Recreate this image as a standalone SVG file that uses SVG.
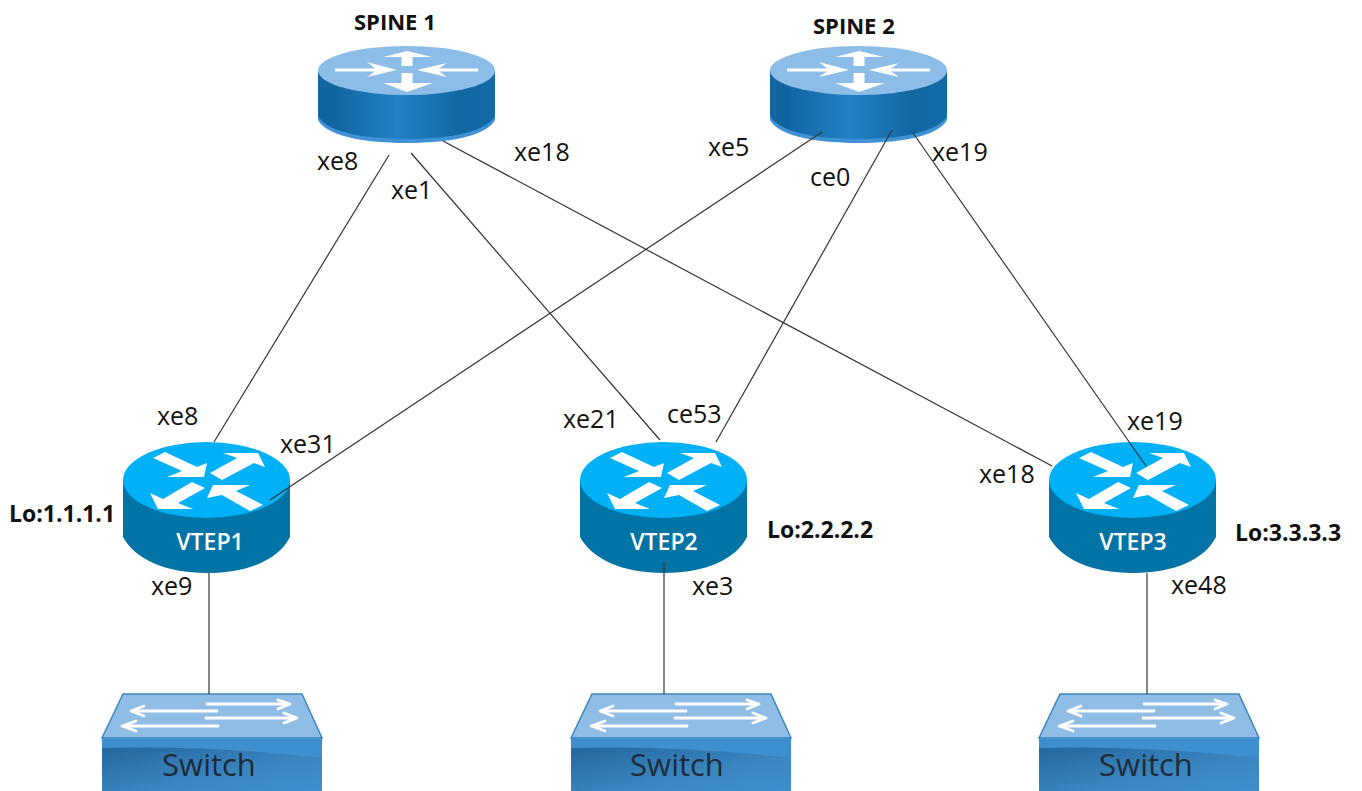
<svg xmlns="http://www.w3.org/2000/svg" width="1362" height="791" viewBox="0 0 1362 791">
<style>
.lbl{font-family:"Open Sans","Liberation Sans",sans-serif;font-size:25px;fill:#111}
.bold{font-family:"Open Sans","Liberation Sans",sans-serif;font-size:23px;font-weight:700;fill:#111}
.sp{font-size:22px}
.vt{font-family:"Open Sans","Liberation Sans",sans-serif;font-size:23px;font-weight:600;fill:#fff;text-anchor:middle}
.sw{font-family:"Open Sans","Liberation Sans",sans-serif;font-size:31px;fill:#1d2b3a;text-anchor:middle}
.c{stroke:#333;stroke-width:1.2;fill:none}
.wa{fill:none;stroke:#fff;stroke-width:2.800;stroke-linecap:round;stroke-linejoin:round}
</style>
<defs>
<linearGradient id="sb" x1="0" x2="1" y1="0" y2="0">
<stop offset="0" stop-color="#14659f"/><stop offset=".1" stop-color="#11659f"/><stop offset=".45" stop-color="#2481c6"/><stop offset=".8" stop-color="#12679f"/><stop offset="1" stop-color="#136aa6"/>
</linearGradient>
<linearGradient id="swb" x1="0" x2="1" y1="0" y2="1">
<stop offset="0" stop-color="#24689f"/><stop offset=".6" stop-color="#3b86c0"/><stop offset="1" stop-color="#3f8fcc"/>
</linearGradient>
<g id="spine">
<path d="M318 70V120C325 134 358 143 406.500 143S488 134 495 120V70Z" fill="#3f92d6"/>
<path d="M318 70V116C325 130 358 139 406.500 139S488 130 495 116V70Z" fill="url(#sb)"/>
<ellipse cx="406.500" cy="70.500" rx="88.500" ry="24.500" fill="#8cbde8"/>
<path d="M407 55V66M407 73V85" stroke="#fff" stroke-width="11" fill="none"/>
<path d="M383 57L407 51L432 57ZM383 83L407 92L433 83Z" fill="#fff"/>
<path d="M335 70H380M478 70H435" stroke="#fff" stroke-width="3" fill="none"/>
<path d="M367 62L397 70L367 77L377 70ZM447 63L417 70L447 77L437 70Z" fill="#fff"/>
</g>
<g id="vtep">
<path d="M123 480V537C135 559 165 573 207 573S279 559 290 537V480Z" fill="#0273a5"/>
<ellipse cx="206.500" cy="480" rx="83.500" ry="38" fill="#00b1f7"/>
<g fill="#fff">
<path d="M153 458L165 452L197 467L207 463L204 477L167 477L182 471Z"/>
<path d="M210 473L237 458L223 453L258 453L265 467L254 463L222 480Z"/>
<path d="M150 493L163 499L192 482L205 488L178 503L193 509L158 509Z"/>
<path d="M207 498L213 485L250 485L236 491L263 505L250 511L222 495Z"/>
</g>
</g>
<g id="switch">
<path d="M123 694H302L322 738H102Z" fill="#8fbde6" stroke="#3d86bd" stroke-width="1.500"/>
<rect x="102" y="738" width="220" height="53" fill="url(#swb)"/>
<path d="M102 738H322V758Q250 750 102 748Z" fill="#3d8fd0"/>
<path d="M102 748Q210 745 322 758V780Q210 770 102 791Z" fill="url(#swb)"/>
<g class="wa">
<path d="M207 704H286M278 700L290 704L278 709"/>
<path d="M217 711H136M144 706L131 711L144 716"/>
<path d="M206 718H294M284 713L297 718L284 723"/>
<path d="M218 726H126M136 721L122 726L136 731"/>
</g>
</g>
</defs>
<g id="spine1"><use href="#spine"/><text class="bold sp" x="354" y="30">SPINE 1</text></g>
<g id="spine2"><use href="#spine" x="452"/><text class="bold sp" x="813" y="34">SPINE 2</text></g>
<g id="vtep1"><use href="#vtep"/><text class="vt" x="210" y="550">VTEP1</text><text class="bold" x="9" y="522">Lo:1.1.1.1</text></g>
<g id="vtep2"><use href="#vtep" x="457"/><text class="vt" x="664" y="550">VTEP2</text><text class="bold" x="767" y="538">Lo:2.2.2.2</text></g>
<g id="vtep3"><use href="#vtep" x="926"/><text class="vt" x="1133" y="550">VTEP3</text><text class="bold" x="1235" y="541">Lo:3.3.3.3</text></g>
<g id="switch1"><use href="#switch"/><text class="sw" x="209" y="776">Switch</text></g>
<g id="switch2"><use href="#switch" x="469"/><text class="sw" x="677" y="776">Switch</text></g>
<g id="switch3"><use href="#switch" x="937"/><text class="sw" x="1146" y="776">Switch</text></g>
<g id="connectors">
<path class="c" d="M389 155L214 442"/>
<path class="c" d="M411 153L660 440"/>
<path class="c" d="M443 141L1052 466"/>
<path class="c" d="M822 132L270 500"/>
<path class="c" d="M892 130L716 442"/>
<path class="c" d="M913 133L1146 466"/>
<path class="c" d="M209 573V694"/>
<path class="c" d="M664 562V694"/>
<path class="c" d="M1147 573V694"/>
</g>
<g id="labels">
<text class="lbl" x="317" y="170">xe8</text>
<text class="lbl" x="391" y="199">xe1</text>
<text class="lbl" x="514" y="161">xe18</text>
<text class="lbl" x="708" y="156">xe5</text>
<text class="lbl" x="810" y="186">ce0</text>
<text class="lbl" x="932" y="161">xe19</text>
<text class="lbl" x="157" y="425">xe8</text>
<text class="lbl" x="280" y="453">xe31</text>
<text class="lbl" x="563" y="428">xe21</text>
<text class="lbl" x="667" y="423">ce53</text>
<text class="lbl" x="1127" y="430">xe19</text>
<text class="lbl" x="979" y="483">xe18</text>
<text class="lbl" x="151" y="595">xe9</text>
<text class="lbl" x="692" y="595">xe3</text>
<text class="lbl" x="1171" y="594">xe48</text>
</g>
</svg>
